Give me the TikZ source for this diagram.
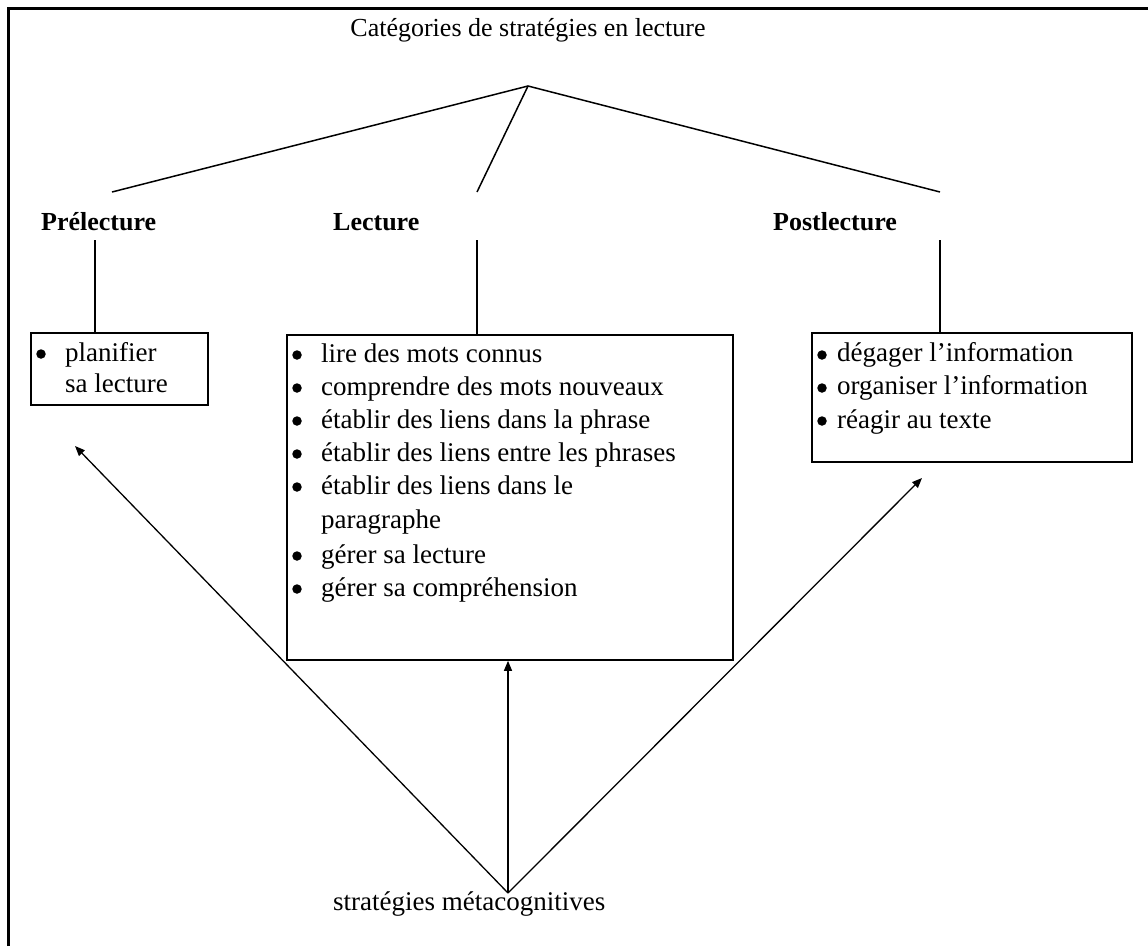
\documentclass[tikz,border=0pt]{standalone}
\usepackage{fontspec}
\setmainfont{Liberation Serif}
\usetikzlibrary{arrows.meta}
\begin{document}
\begin{tikzpicture}[x=1pt,y=-1pt,
  body/.style={font=\fontsize{27}{33}\selectfont, inner sep=0pt, anchor=base west},
  titletext/.style={font=\fontsize{26}{31}\selectfont, inner sep=0pt, anchor=base},
  head/.style={font=\fontsize{26}{31}\selectfont\bfseries, inner sep=0pt, anchor=base west},
  box/.style={draw, line width=1.6pt, rectangle, inner sep=0pt},
  dot/.style={circle, fill, inner sep=0pt, minimum size=9.5pt},
  tree/.style={line width=1.5pt},
  arr/.style={line width=1.3pt, -{Triangle[length=10pt,width=8pt]}}]
\useasboundingbox (0,0) rectangle (1148,946);
% frame
\draw[line width=3pt] (8,946) -- (8,8) -- (1148,8);
% title
\node[titletext] (title) at (528,36) {Catégories de stratégies en lecture};
\coordinate (apex) at (528,86);
\coordinate (e1) at (112,192);
\coordinate (e2) at (477,192);
\coordinate (e3) at (940,192);
\draw[tree] (e1) -- (apex) -- (e3);
\draw[tree] (apex) -- (e2);
% headings
\node[head] (h1) at (41,230) {Prélecture};
\node[head] (h2) at (333,230) {Lecture};
\node[head] (h3) at (773,230) {Postlecture};
% boxes
\node[box, minimum width=177pt, minimum height=72pt] (b1) at (119.5,369) {};
\node[box, minimum width=446pt, minimum height=325pt] (b2) at (510,497.5) {};
\node[box, minimum width=320pt, minimum height=129pt] (b3) at (972,397.5) {};
\coordinate (v1) at (95,240);
\coordinate (v2) at (477,240);
\coordinate (v3) at (940,240);
\draw[tree] (v1) -- (v1 |- b1.north);
\draw[tree] (v2) -- (v2 |- b2.north);
\draw[tree] (v3) -- (v3 |- b3.north);
% box 1
\node[dot] (d11) at (41,354) {};
\node[body] (t11) at (65,361) {planifier};
\node[body] (t12) at (65,392) {sa lecture};
% box 2
\node[dot] (d21) at (297,355) {};
\node[body] (t21) at (321,362) {lire des mots connus};
\node[dot] (d22) at (297,388) {};
\node[body] (t22) at (321,395) {comprendre des mots nouveaux};
\node[dot] (d23) at (297,421) {};
\node[body] (t23) at (321,428) {établir des liens dans la phrase};
\node[dot] (d24) at (297,454) {};
\node[body] (t24) at (321,461) {établir des liens entre les phrases};
\node[dot] (d25) at (297,487) {};
\node[body] (t25) at (321,494) {établir des liens dans le};
\node[body] (t26) at (321,528) {paragraphe};
\node[dot] (d27) at (297,556) {};
\node[body] (t27) at (321,563) {gérer sa lecture};
\node[dot] (d28) at (297,589) {};
\node[body] (t28) at (321,596) {gérer sa compréhension};
% box 3
\node[dot] (d31) at (822,355) {};
\node[body] (t31) at (837,361) {dégager l’information};
\node[dot] (d32) at (822,388) {};
\node[body] (t32) at (837,394) {organiser l’information};
\node[dot] (d33) at (822,421) {};
\node[body] (t33) at (837,428) {réagir au texte};
% metacognitive
\node[body] (meta) at (333,910) {stratégies métacognitives};
\coordinate (src) at (508,893);
\coordinate (tipL) at (75,446);
\coordinate (tipR) at (922,478);
\draw[arr] (src) -- (tipL);
\draw[arr] (src) -- (b2.south -| src);
\draw[arr] (src) -- (tipR);
\end{tikzpicture}
\end{document}
